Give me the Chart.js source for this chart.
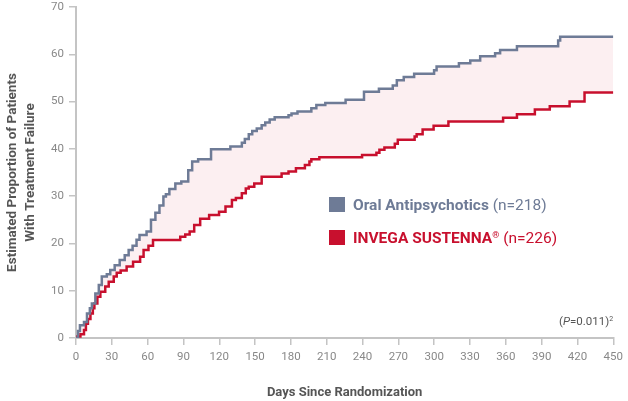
<!DOCTYPE html>
<html>
<head>
<meta charset="utf-8">
<script src="https://cdn.jsdelivr.net/npm/chart.js@4.4.1/dist/chart.umd.min.js"></script>
<style>
  body { margin: 0; background: #fff; font-family: Roboto, sans-serif; }
  .wrap { position: relative; width: 628px; height: 401px; }
  .legend { position: absolute; left: 329px; font-size: 15.5px; line-height: 18px; white-space: nowrap; }
  .legend .sq { display: inline-block; width: 16px; height: 15px; vertical-align: -2px; margin-right: 8px; }
  .legend b { font-weight: 700; }
  .oral { top: 196px; color: #6e7b96; }
  .oral .sq { background: #6e7b96; }
  .invega { top: 226px; color: #c8102e; }
  .invega .sq { background: #c8102e; }
  .invega sup { font-size: 9px; vertical-align: 5px; }
  .pval { position: absolute; left: 559px; top: 314px; font-size: 11.5px; color: #555; }
  .pval sup { font-size: 7px; vertical-align: 4px; }
</style>
</head>
<body>
<div class="wrap">
  <canvas id="km"></canvas>
  <div class="legend oral"><span class="sq"></span><b>Oral Antipsychotics</b> (n=218)</div>
  <div class="legend invega"><span class="sq"></span><b>INVEGA SUSTENNA<sup>®</sup></b> (n=226)</div>
  <div class="pval">(<i>P</i>=0.011)<sup>2</sup></div>
</div>
<script>
// step points: day at which the estimate jumps, and the new value (%)
var oralDays = [0, 1.7, 3.3, 6.7, 9.2, 11.6, 13.3, 16.2, 19.1, 21.6, 25.8, 28.7, 32.4, 36.6, 40.8, 44.1, 47.4, 50.7, 53.2, 59.1, 62.8, 66.5, 69.9, 73.2, 75.3, 78.2, 83.2, 88.2, 94, 97.3, 102.3, 113.1, 129.3, 138.9, 141.4, 144.7, 147.6, 151.4, 155.5, 158.5, 162.2, 166.4, 178, 180.5, 185.5, 197.1, 201.3, 208.8, 225.8, 241.2, 253.7, 265.3, 268.7, 274.5, 283.2, 299.9, 302, 320.7, 330.2, 338.5, 351, 355.2, 369.3, 403.8, 405.5, 450];
var oralVals = [0, 1.5, 2.7, 3.4, 5.2, 6.3, 7.3, 9.4, 11.2, 13, 13.5, 14.4, 15.4, 16.5, 17.5, 18.6, 19.5, 20.8, 21.8, 22.5, 25, 26.5, 28, 29.9, 30.4, 31.5, 32.7, 33.1, 35.5, 37.3, 37.8, 39.9, 40.5, 41.3, 42.1, 43.1, 43.8, 44.3, 45, 45.6, 46.2, 46.7, 47.1, 47.5, 47.9, 48.6, 49.3, 49.7, 50.4, 52.1, 52.7, 53.4, 54.5, 55.2, 55.9, 56.6, 57.4, 58.1, 58.7, 59.6, 60.2, 60.9, 61.7, 62.9, 63.7, 63.7];

var invegaDays = [0, 1.2, 3.7, 6.7, 8.3, 10, 12.1, 14.1, 15.4, 17.9, 20.4, 24.5, 27.4, 31.6, 34.1, 37.4, 42.4, 47.8, 53.7, 56.6, 60.7, 64.5, 87.3, 91.5, 95.2, 99, 104, 111.5, 119.8, 125.2, 130.6, 133.9, 138.9, 142.2, 144.7, 149.3, 155.5, 172.2, 178, 184.2, 191.7, 195.5, 197.1, 203.8, 239.6, 251.6, 254.1, 258.3, 267, 269.5, 283.6, 285.3, 290.3, 299.5, 311.9, 357.7, 369.3, 384.3, 396.8, 413.4, 425.9, 450];
var invegaVals = [0, 0.3, 0.8, 1.7, 3, 4, 5.2, 6.3, 7.3, 8.7, 9.8, 10.9, 11.9, 13, 13.8, 14.3, 15.1, 16.1, 17.2, 18.6, 19.5, 20.7, 21.4, 21.9, 22.5, 23.9, 25.2, 26, 26.7, 27.8, 29.2, 29.6, 30.6, 31.6, 32, 32.7, 34.1, 34.8, 35.2, 35.9, 36.6, 37.3, 37.8, 38.2, 38.7, 39.2, 39.8, 40.3, 41.1, 41.9, 42.6, 43.1, 44.1, 44.9, 45.8, 46.6, 47.3, 48.3, 49, 50, 51.9, 51.9];

var xTicks = [0, 30, 60, 90, 120, 150, 180, 210, 240, 270, 300, 330, 360, 390, 420, 450];
var yTicks = [0, 10, 20, 30, 40, 50, 60, 70];

function toPoints(days, vals) {
    return days.map((d, i) => ({ x: d, y: vals[i] }));
}

var axisGray = '#c4c4c4';
var tickFont = { family: 'Roboto', size: 11.5 };
var titleFont = { family: 'Roboto', size: 13, weight: 'bold' };

new Chart(document.getElementById('km'), {
    type: 'line',
    data: {
        datasets: [{
            label: 'Oral Antipsychotics',
            data: toPoints(oralDays, oralVals),
            borderColor: '#6e7b96',
            borderWidth: 2.5,
            stepped: true,
            pointRadius: 0,
            fill: '+1',
            backgroundColor: 'rgba(206, 20, 50, 0.065)'
        }, {
            label: 'INVEGA SUSTENNA',
            data: toPoints(invegaDays, invegaVals),
            borderColor: '#c8102e',
            borderWidth: 2.5,
            stepped: true,
            pointRadius: 0,
            fill: false
        }]
    },
    options: {
        responsive: true,
        maintainAspectRatio: false,
        animation: false,
        layout: { padding: { top: 0, right: 11, left: 0, bottom: 0 } },
        plugins: { legend: { display: false }, tooltip: { enabled: false } },
        scales: {
            x: {
                type: 'linear',
                min: 0, max: 450,
                afterBuildTicks: s => { s.ticks = xTicks.map(v => ({ value: v })); },
                afterFit: s => { s.height = 63; },
                grid: { drawOnChartArea: false, drawTicks: true, tickLength: 7, color: axisGray, lineWidth: 1.5 },
                border: { color: axisGray, width: 2 },
                ticks: { color: '#888', font: tickFont, padding: 5, maxRotation: 0 },
                title: { display: true, text: 'Days Since Randomization', color: '#555', font: titleFont, padding: { top: 0, bottom: 0 } }
            },
            y: {
                min: 0, max: 70,
                afterBuildTicks: s => { s.ticks = yTicks.map(v => ({ value: v })); },
                afterFit: s => { s.width = 76; s.paddingTop = 7; },
                grid: { drawOnChartArea: false, drawTicks: true, tickLength: 7, color: axisGray, lineWidth: 1.5 },
                border: { color: axisGray, width: 2 },
                ticks: { color: '#888', font: tickFont, padding: 5 },
                title: { display: true, text: ['Estimated Proportion of Patients', 'With Treatment Failure'], color: '#555', font: { family: 'Roboto', size: 13.5, weight: 'bold', lineHeight: 1.3 }, padding: { top: 4, bottom: 0 } }
            }
        }
    }
});
</script>
</body>
</html>
